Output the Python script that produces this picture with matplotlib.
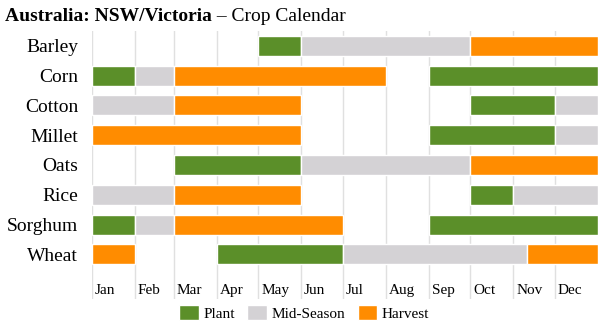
import matplotlib.pyplot as plt

crops = ['Barley', 'Corn', 'Cotton', 'Millet', 'Oats', 'Rice', 'Sorghum', 'Wheat']
months = ['Jan', 'Feb', 'Mar', 'Apr', 'May', 'Jun', 'Jul', 'Aug', 'Sep', 'Oct', 'Nov', 'Dec']
month_start = [0, 31, 59, 90, 120, 151, 181, 212, 243, 273, 304, 334]

# (crop, start day, end day)
plant = [('Barley', 120, 151), ('Corn', 0, 31), ('Corn', 243, 365),
         ('Cotton', 273, 334), ('Millet', 243, 334), ('Oats', 59, 151),
         ('Rice', 273, 304), ('Sorghum', 0, 31), ('Sorghum', 243, 365),
         ('Wheat', 90, 181)]
mid_season = [('Barley', 151, 273), ('Corn', 31, 59), ('Cotton', 0, 59),
              ('Cotton', 334, 365), ('Millet', 334, 365), ('Oats', 151, 273),
              ('Rice', 0, 59), ('Rice', 304, 365), ('Sorghum', 31, 59),
              ('Wheat', 181, 314)]
harvest = [('Barley', 273, 365), ('Corn', 59, 212), ('Cotton', 59, 151),
           ('Millet', 0, 151), ('Oats', 273, 365), ('Rice', 59, 151),
           ('Sorghum', 59, 181), ('Wheat', 0, 31), ('Wheat', 314, 365)]

plt.rcParams['font.family'] = ['Liberation Serif', 'DejaVu Serif']

fig = plt.figure(figsize=(6, 3.35), dpi=100)
ax = fig.add_axes([0.1533, 0.1075, 0.8434, 0.8])

for x in month_start:
    ax.axvline(x, color='#e0e0e0', lw=1, zorder=0)

stages = [('Plant', plant, '#5b8f29'), ('Mid-Season', mid_season, '#d4d2d5'),
          ('Harvest', harvest, '#ff8c00')]
for name, segs, color in stages:
    ys = [crops.index(c) for c, s, e in segs]
    lefts = [s for c, s, e in segs]
    widths = [e - s for c, s, e in segs]
    ax.barh(ys, widths, left=lefts, height=0.67, color=color,
            edgecolor='white', linewidth=1, label=name, zorder=2)

for m, x in zip(months, month_start):
    ax.text(x + 2, 8.2, m, fontsize=11, va='center', ha='left')

ax.set_xlim(0, 365)
ax.set_ylim(8.5, -0.5)
ax.set_yticks(range(len(crops)))
ax.set_yticklabels(crops, fontsize=14)
ax.set_xticks([])
ax.tick_params(axis='y', length=0, pad=10)
for s in ax.spines.values():
    s.set_visible(False)

leg = fig.legend(loc='center', bbox_to_anchor=(0.507, 0.065), ncol=3, frameon=False,
                 fontsize=11, handlelength=1.3, handleheight=1.1,
                 handletextpad=0.3, columnspacing=0.8)

t = fig.text(0.008, 0.952, 'Australia: NSW/Victoria', fontsize=14,
             fontweight='bold', va='center', ha='left')
ax.annotate(' \u2013 Crop Calendar', xy=(1, 0.5), xycoords=t, va='center',
            ha='left', fontsize=14)

fig.savefig('out.png', dpi=100)
